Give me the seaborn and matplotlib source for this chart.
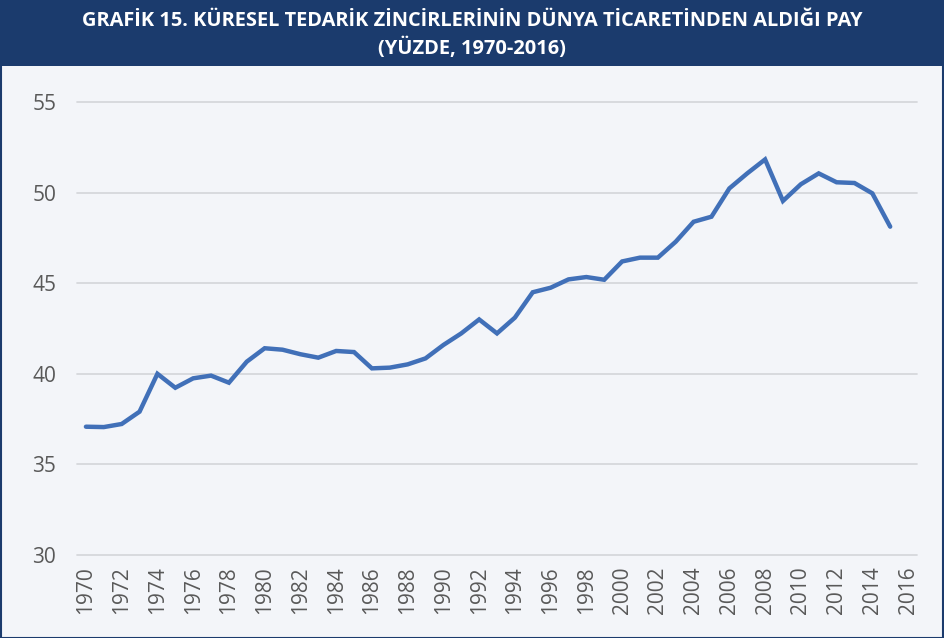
import numpy as np
import pandas as pd
import matplotlib
matplotlib.use("Agg")
import matplotlib.pyplot as plt
import seaborn as sns
from matplotlib.patches import Rectangle

# share of global value chains in world trade, percent
years = list(range(1970, 2016))
share = [37.08, 37.06, 37.23, 37.91, 40.0, 39.23, 39.75, 39.9, 39.51, 40.67,
         41.41, 41.33, 41.08, 40.89, 41.26, 41.2, 40.3, 40.34, 40.52, 40.85,
         41.59, 42.23, 43.0, 42.23, 43.1, 44.5, 44.75, 45.21, 45.34, 45.19,
         46.2, 46.41, 46.41, 47.29, 48.39, 48.67, 50.23, 51.06, 51.83, 49.54,
         50.46, 51.06, 50.57, 50.53, 49.96, 48.12]
tick_years = list(range(1970, 2017, 2))
y_ticks = [30, 35, 40, 45, 50, 55]

title = "GRAFİK 15. KÜRESEL TEDARİK ZİNCİRLERİNİN DÜNYA TİCARETİNDEN ALDIĞI PAY\n(YÜZDE, 1970-2016)"

df = pd.DataFrame({"yil": years, "pay": share})

sns.set_style("white")
plt.rcParams["font.family"] = ["Open Sans", "DejaVu Sans"]

bg = "#f3f5f9"
navy = "#1b3b6d"

fig = plt.figure(figsize=(9.44, 6.38), dpi=100, facecolor=bg)
ax = fig.add_axes([77 / 944, 1 - 555 / 638, 840 / 944, 453 / 638])
ax.set_facecolor(bg)

sns.lineplot(data=df, x="yil", y="pay", ax=ax, color="#4170b8", linewidth=3.2,
             solid_joinstyle="miter")

ax.set_xlim(1969.5, 2016.5)
ax.set_ylim(30, 55)
ax.set_yticks(y_ticks)
ax.set_xticks(tick_years)
ax.set_xticklabels([str(y) for y in tick_years], rotation=90)
ax.tick_params(axis="both", length=0, labelsize=15, labelcolor="#595959")
ax.tick_params(axis="x", pad=8)
ax.tick_params(axis="y", pad=15)
ax.grid(axis="y", color="#d6d8dc", linewidth=1.3)
for gl in ax.get_ygridlines():
    gl.set_clip_on(False)
for s in ax.spines.values():
    s.set_visible(False)
ax.set_xlabel("")
ax.set_ylabel("")

# title bar
fig.patches.append(Rectangle((0, 1 - 66 / 638), 1, 66 / 638, transform=fig.transFigure,
                             facecolor=navy, edgecolor="none", zorder=0))
fig.patches.append(Rectangle((0.5 / 944, 0.5 / 638), 942.5 / 944, 1 - 1 / 638,
                             transform=fig.transFigure, facecolor="none",
                             edgecolor=navy, linewidth=1.5, zorder=1))
fig.text(0.5, 1 - 35 / 638, title, ha="center", va="center", color="white",
         fontsize=14.4, fontweight="bold", linespacing=1.35)

fig.savefig("out.png", dpi=100, facecolor=bg)
